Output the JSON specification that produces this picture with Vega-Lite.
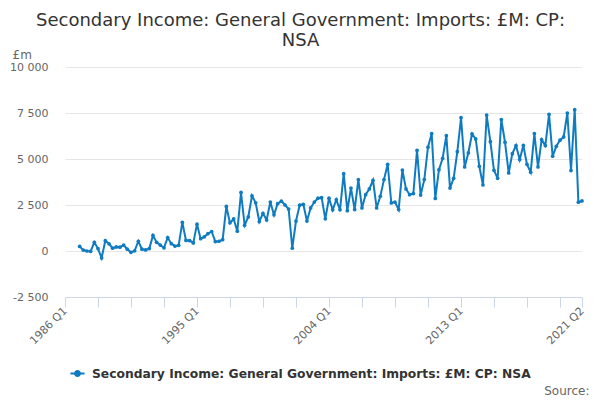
{
  "$schema": "https://vega.github.io/schema/vega-lite/v6.json",
  "autosize": "none",
  "width": 517,
  "height": 230,
  "padding": {"left": 65, "top": 67, "right": 18, "bottom": 103},
  "background": "#ffffff",
  "title": {
    "text": ["Secondary Income: General Government: Imports: £M: CP:", "NSA"],
    "fontSize": 18,
    "fontWeight": "normal",
    "color": "#333333",
    "lineHeight": 20,
    "anchor": "middle",
    "dx": -23,
    "offset": -2
  },
  "data": {
    "values": [
      {"date": "1987-01-01", "value": 250}, {"date": "1987-04-01", "value": 50}, {"date": "1987-07-01", "value": 0}, {"date": "1987-10-01", "value": -20},
      {"date": "1988-01-01", "value": 470}, {"date": "1988-04-01", "value": 130}, {"date": "1988-07-01", "value": -380}, {"date": "1988-10-01", "value": 560},
      {"date": "1989-01-01", "value": 390}, {"date": "1989-04-01", "value": 150}, {"date": "1989-07-01", "value": 220}, {"date": "1989-10-01", "value": 210},
      {"date": "1990-01-01", "value": 320}, {"date": "1990-04-01", "value": 100}, {"date": "1990-07-01", "value": -70}, {"date": "1990-10-01", "value": 10},
      {"date": "1991-01-01", "value": 530}, {"date": "1991-04-01", "value": 100}, {"date": "1991-07-01", "value": 60}, {"date": "1991-10-01", "value": 130},
      {"date": "1992-01-01", "value": 850}, {"date": "1992-04-01", "value": 470}, {"date": "1992-07-01", "value": 320}, {"date": "1992-10-01", "value": 175},
      {"date": "1993-01-01", "value": 730}, {"date": "1993-04-01", "value": 400}, {"date": "1993-07-01", "value": 265}, {"date": "1993-10-01", "value": 310},
      {"date": "1994-01-01", "value": 1560}, {"date": "1994-04-01", "value": 575}, {"date": "1994-07-01", "value": 565}, {"date": "1994-10-01", "value": 440},
      {"date": "1995-01-01", "value": 1460}, {"date": "1995-04-01", "value": 670}, {"date": "1995-07-01", "value": 770}, {"date": "1995-10-01", "value": 940},
      {"date": "1996-01-01", "value": 1060}, {"date": "1996-04-01", "value": 510}, {"date": "1996-07-01", "value": 530}, {"date": "1996-10-01", "value": 615},
      {"date": "1997-01-01", "value": 2420}, {"date": "1997-04-01", "value": 1530}, {"date": "1997-07-01", "value": 1740}, {"date": "1997-10-01", "value": 1080},
      {"date": "1998-01-01", "value": 3180}, {"date": "1998-04-01", "value": 1400}, {"date": "1998-07-01", "value": 1850}, {"date": "1998-10-01", "value": 3000},
      {"date": "1999-01-01", "value": 2620}, {"date": "1999-04-01", "value": 1600}, {"date": "1999-07-01", "value": 2050}, {"date": "1999-10-01", "value": 1690},
      {"date": "2000-01-01", "value": 2660}, {"date": "2000-04-01", "value": 1970}, {"date": "2000-07-01", "value": 2570}, {"date": "2000-10-01", "value": 2710},
      {"date": "2001-01-01", "value": 2500}, {"date": "2001-04-01", "value": 2280}, {"date": "2001-07-01", "value": 150}, {"date": "2001-10-01", "value": 1630},
      {"date": "2002-01-01", "value": 2490}, {"date": "2002-04-01", "value": 2540}, {"date": "2002-07-01", "value": 1630}, {"date": "2002-10-01", "value": 2340},
      {"date": "2003-01-01", "value": 2660}, {"date": "2003-04-01", "value": 2870}, {"date": "2003-07-01", "value": 2900}, {"date": "2003-10-01", "value": 1750},
      {"date": "2004-01-01", "value": 2870}, {"date": "2004-04-01", "value": 2240}, {"date": "2004-07-01", "value": 2790}, {"date": "2004-10-01", "value": 2240},
      {"date": "2005-01-01", "value": 4200}, {"date": "2005-04-01", "value": 2190}, {"date": "2005-07-01", "value": 3420}, {"date": "2005-10-01", "value": 2250},
      {"date": "2006-01-01", "value": 3880}, {"date": "2006-04-01", "value": 2340}, {"date": "2006-07-01", "value": 3060}, {"date": "2006-10-01", "value": 3370},
      {"date": "2007-01-01", "value": 3840}, {"date": "2007-04-01", "value": 2340}, {"date": "2007-07-01", "value": 2970}, {"date": "2007-10-01", "value": 3880},
      {"date": "2008-01-01", "value": 4710}, {"date": "2008-04-01", "value": 2610}, {"date": "2008-07-01", "value": 2660}, {"date": "2008-10-01", "value": 2250},
      {"date": "2009-01-01", "value": 4400}, {"date": "2009-04-01", "value": 3370}, {"date": "2009-07-01", "value": 3060}, {"date": "2009-10-01", "value": 3120},
      {"date": "2010-01-01", "value": 5470}, {"date": "2010-04-01", "value": 3040}, {"date": "2010-07-01", "value": 3880}, {"date": "2010-10-01", "value": 5640},
      {"date": "2011-01-01", "value": 6380}, {"date": "2011-04-01", "value": 2860}, {"date": "2011-07-01", "value": 4420}, {"date": "2011-10-01", "value": 5040},
      {"date": "2012-01-01", "value": 6270}, {"date": "2012-04-01", "value": 3420}, {"date": "2012-07-01", "value": 3950}, {"date": "2012-10-01", "value": 5400},
      {"date": "2013-01-01", "value": 7250}, {"date": "2013-04-01", "value": 4570}, {"date": "2013-07-01", "value": 5330}, {"date": "2013-10-01", "value": 6360},
      {"date": "2014-01-01", "value": 6090}, {"date": "2014-04-01", "value": 4600}, {"date": "2014-07-01", "value": 3590}, {"date": "2014-10-01", "value": 7390},
      {"date": "2015-01-01", "value": 5940}, {"date": "2015-04-01", "value": 4385}, {"date": "2015-07-01", "value": 3950}, {"date": "2015-10-01", "value": 7140},
      {"date": "2016-01-01", "value": 5910}, {"date": "2016-04-01", "value": 4240}, {"date": "2016-07-01", "value": 5290}, {"date": "2016-10-01", "value": 5730},
      {"date": "2017-01-01", "value": 4970}, {"date": "2017-04-01", "value": 5740}, {"date": "2017-07-01", "value": 4710}, {"date": "2017-10-01", "value": 4280},
      {"date": "2018-01-01", "value": 6380}, {"date": "2018-04-01", "value": 4570}, {"date": "2018-07-01", "value": 6050}, {"date": "2018-10-01", "value": 5730},
      {"date": "2019-01-01", "value": 7430}, {"date": "2019-04-01", "value": 5150}, {"date": "2019-07-01", "value": 5690}, {"date": "2019-10-01", "value": 6020},
      {"date": "2020-01-01", "value": 6200}, {"date": "2020-04-01", "value": 7500}, {"date": "2020-07-01", "value": 4370}, {"date": "2020-10-01", "value": 7680},
      {"date": "2021-01-01", "value": 2650}, {"date": "2021-04-01", "value": 2720}
    ]
  },
  "mark": {
    "type": "line",
    "strokeWidth": 2,
    "point": {"filled": true, "size": 14}
  },
  "encoding": {
    "x": {
      "field": "date",
      "type": "temporal",
      "scale": {
        "type": "utc",
        "domain": [
          {"year": 1986, "month": 1, "date": 1, "utc": true},
          {"year": 2021, "month": 4, "date": 1, "utc": true}
        ]
      },
      "axis": {
        "values": [
          {"year": 1986, "month": 1, "date": 1, "utc": true},
          {"year": 1988, "month": 4, "date": 1, "utc": true},
          {"year": 1990, "month": 7, "date": 1, "utc": true},
          {"year": 1992, "month": 10, "date": 1, "utc": true},
          {"year": 1995, "month": 1, "date": 1, "utc": true},
          {"year": 1997, "month": 4, "date": 1, "utc": true},
          {"year": 1999, "month": 7, "date": 1, "utc": true},
          {"year": 2001, "month": 10, "date": 1, "utc": true},
          {"year": 2004, "month": 1, "date": 1, "utc": true},
          {"year": 2006, "month": 4, "date": 1, "utc": true},
          {"year": 2008, "month": 7, "date": 1, "utc": true},
          {"year": 2010, "month": 10, "date": 1, "utc": true},
          {"year": 2013, "month": 1, "date": 1, "utc": true},
          {"year": 2015, "month": 4, "date": 1, "utc": true},
          {"year": 2017, "month": 7, "date": 1, "utc": true},
          {"year": 2019, "month": 10, "date": 1, "utc": true},
          {"year": 2021, "month": 4, "date": 1, "utc": true}
        ],
        "labelExpr": "(utcmonth(datum.value) == 0 && (utcyear(datum.value) - 1986) % 9 == 0) || utcyear(datum.value) == 2021 ? utcyear(datum.value) + ' Q' + (floor(utcmonth(datum.value) / 3) + 1) : ''",
        "labelAngle": -45,
        "labelAlign": "right",
        "labelBaseline": "middle",
        "labelFontSize": 11,
        "labelColor": "#666666",
        "labelPadding": 2,
        "labelOverlap": false,
        "labelFlush": false,
        "grid": false,
        "domainColor": "#ccd6eb",
        "tickColor": "#ccd6eb",
        "tickSize": 10,
        "title": "Source:",
        "titleFontSize": 12,
        "titleFontWeight": "normal",
        "titleColor": "#666666",
        "titleAlign": "right",
        "titleAnchor": null,
        "titleX": 524,
        "titleY": 97,
        "titleBaseline": "alphabetic"
      }
    },
    "y": {
      "field": "value",
      "type": "quantitative",
      "scale": {"domain": [-2500, 10000], "nice": false, "zero": false},
      "axis": {
        "values": [-2500, 0, 2500, 5000, 7500, 10000],
        "labelExpr": "(datum.value < 0 ? '-' : '') + replace(format(abs(datum.value), ','), ',', ' ')",
        "labelFontSize": 11,
        "labelColor": "#666666",
        "labelPadding": 17,
        "ticks": false,
        "domain": false,
        "gridColor": "#e6e6e6",
        "title": "£m",
        "titleAngle": 0,
        "titleAlign": "left",
        "titleAnchor": null,
        "titleX": -53,
        "titleY": -9,
        "titleBaseline": "alphabetic",
        "titleFontSize": 12,
        "titleFontWeight": "normal",
        "titleColor": "#666666"
      }
    },
    "color": {
      "datum": "Secondary Income: General Government: Imports: £M: CP: NSA",
      "scale": {"range": ["#0f7bc1"]},
      "legend": {
        "title": null,
        "orient": "none",
        "legendX": 4,
        "legendY": 298,
        "symbolType": "M-1,0H1M-0.35,0A0.35,0.35 0 1,0 0.35,0A0.35,0.35 0 1,0 -0.35,0Z",
        "symbolSize": 200,
        "symbolStrokeWidth": 2,
        "symbolFillColor": "#0f7bc1",
        "symbolStrokeColor": "#0f7bc1",
        "labelFontSize": 12.3,
        "labelFontWeight": "bold",
        "labelColor": "#333333",
        "labelLimit": 0,
        "labelOffset": 6
      }
    }
  },
  "config": {
    "font": "DejaVu Sans",
    "view": {"stroke": null}
  }
}
